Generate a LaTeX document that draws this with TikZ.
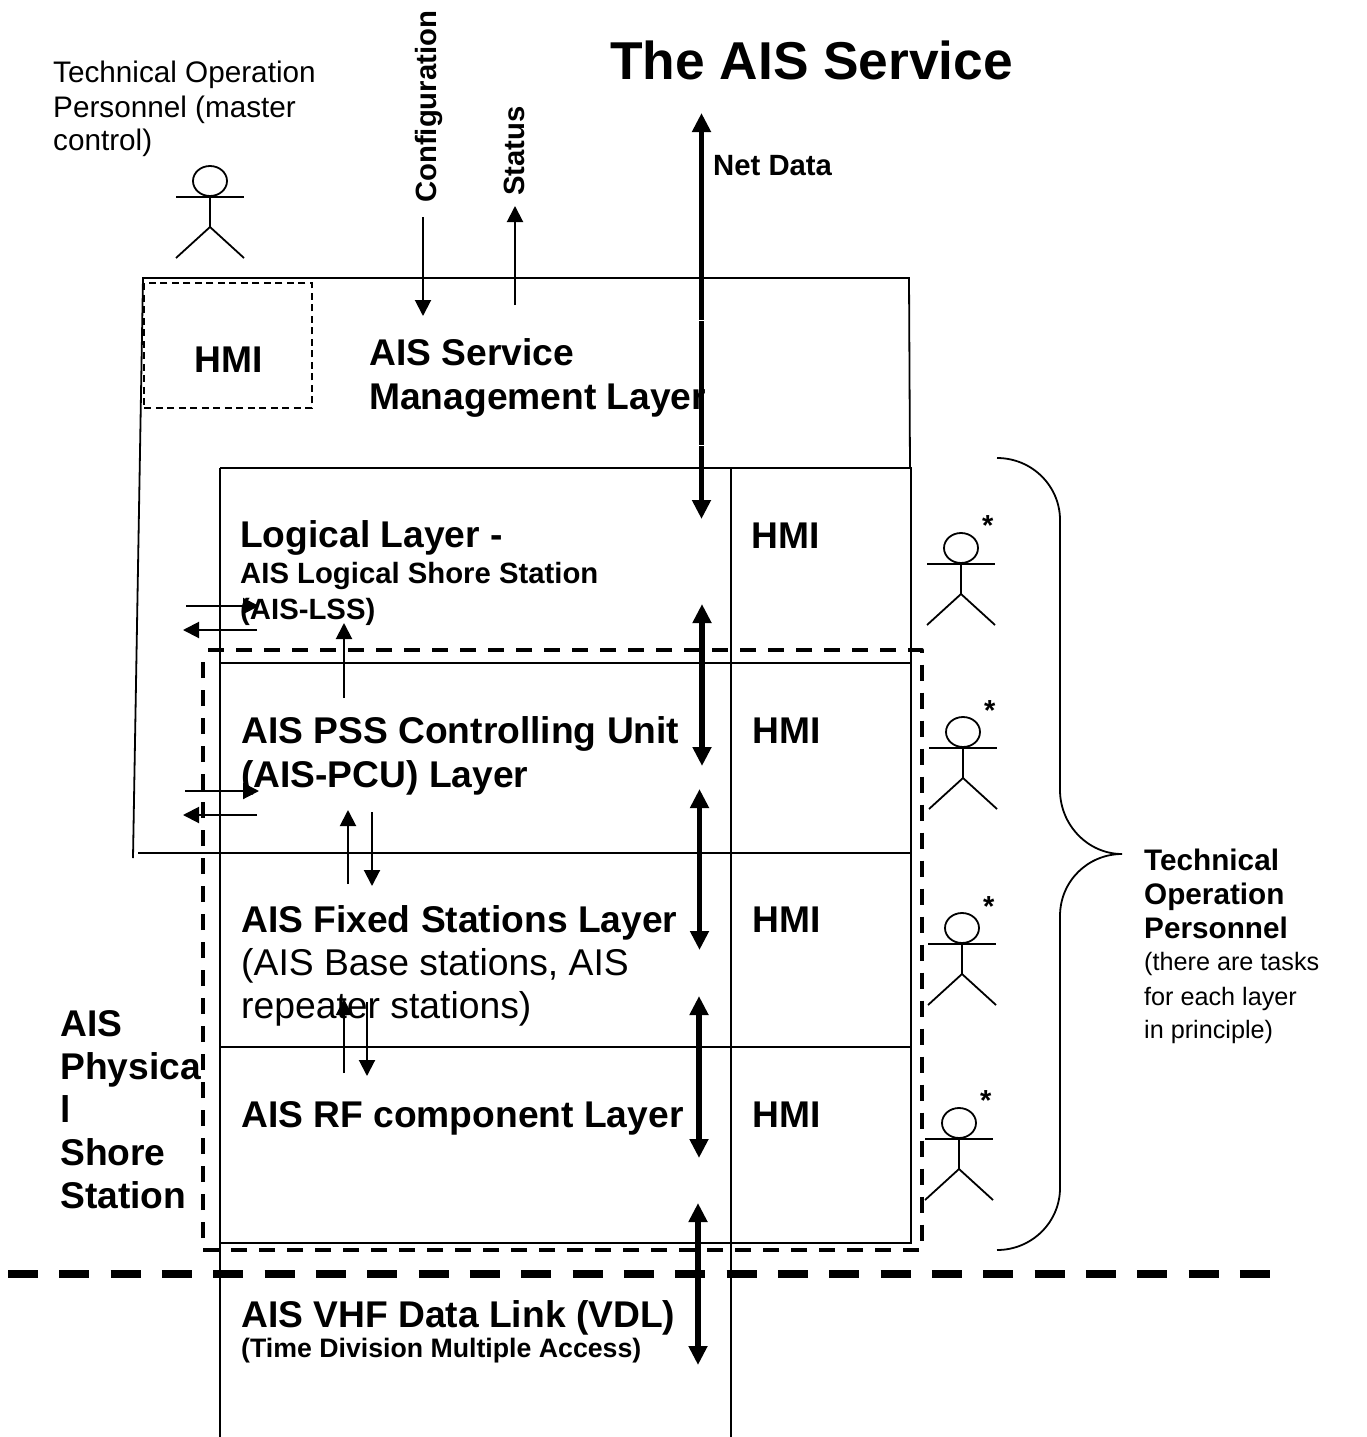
\documentclass[tikz,border=0pt]{standalone}
\usepackage{fontspec}
\setmainfont{Liberation Sans}
\usetikzlibrary{arrows.meta,calc}
\newcommand{\fs}[1]{\fontsize{#1}{#1}\selectfont}
\tikzset{x=1pt,y=-1pt,
  lbl/.style={inner sep=0pt,anchor=base west,align=left},
  title/.style={lbl,font=\fs{53.3}\bfseries},
  big/.style={lbl,font=\fs{37.2}\bfseries},
  med/.style={lbl,font=\fs{29.3}\bfseries},
  tech/.style={lbl,font=\fs{29.7}\bfseries},
  plain/.style={lbl,font=\fs{29.7}},
  note/.style={lbl,font=\fs{25.2}},
  plainbig/.style={lbl,font=\fs{37.3}},
  small/.style={lbl,font=\fs{26.7}\bfseries},
  star/.style={lbl,font=\fs{29}\bfseries},
  thin line/.style={draw=black,line width=1.8pt},
  thinarrow/.style={draw=black,line width=2pt,-{Triangle[length=16pt,width=16pt]}},
  thickarrow/.style={draw=black,line width=5.5pt,{Triangle[length=19pt,width=18pt]}-{Triangle[length=19pt,width=18pt]}},
  thickstart/.style={draw=black,line width=5.5pt,{Triangle[length=19pt,width=18pt]}-},
  thickmid/.style={draw=black,line width=5.5pt},
  thickend/.style={draw=black,line width=5.5pt,-{Triangle[length=19pt,width=18pt]}},
  dashbox/.style={draw=black,line width=4pt,dash pattern=on 16pt off 12pt,line join=round},
  hmidash/.style={draw=black,line width=1.7pt,dash pattern=on 7pt off 4.5pt},
  bigdash/.style={draw=black,line width=8pt,dash pattern=on 30pt off 21.33pt},
}
\begin{document}
\begin{tikzpicture}
\useasboundingbox (0,0) rectangle (1367,1437);
% titles
\node[title] (title) at (610,79) {The AIS Service};
\node[plain] (top) at (53,82) {Technical Operation};
\node[plain] (top2) at (53,117) {Personnel (master};
\node[plain] (top3) at (53,150) {control)};
\node[med,rotate=90] (conf) at (436,203) {Configuration};
\node[med,rotate=90] (stat) at (524,196) {Status};
\node[med] (net) at (713,175) {Net Data};
% outer management box
\coordinate (m1) at (133,858); \coordinate (m2) at (143,278);
\coordinate (m3) at (909,278); \coordinate (m4) at (910,468);
\coordinate (m5) at (220,853); \coordinate (m6) at (138,853);
\draw[thin line] (m5) -- (m6);
\draw[thin line] (m1) -- (m2) -- (m3) -- (m4);
% layer table
\coordinate (a1) at (220,468); \coordinate (a2) at (911,468);
\coordinate (b1) at (220,663); \coordinate (b2) at (911,663);
\coordinate (c1) at (220,853); \coordinate (c2) at (911,853);
\coordinate (d1) at (220,1047); \coordinate (d2) at (911,1047);
\coordinate (e1) at (220,1243); \coordinate (e2) at (911,1243);
\coordinate (f1) at (220,1437); \coordinate (f2) at (731,1437);
\coordinate (g1) at (731,468);
\draw[thin line] (a1) -- (a2) -- (e2) -- (e1);
\draw[thin line] (a1) -- (f1);
\draw[thin line] (b1) -- (b2);
\draw[thin line] (c1) -- (c2);
\draw[thin line] (d1) -- (d2);
\draw[thin line] (g1) -- (f2);
% HMI dashed
\node[hmidash,minimum width=167.5pt,minimum height=125pt,inner sep=0pt] (hmibox) at (228,345.8) {};
\node[big] (hmi0) at (194,372) {HMI};
\node[big] (hmi1) at (751,548) {HMI};
\node[big] (hmi2) at (752,743) {HMI};
\node[big] (hmi3) at (752,932) {HMI};
\node[big] (hmi4) at (752,1127) {HMI};
% layer labels
\node[big] (l1) at (369,365) {AIS Service};
\node[big] (l2) at (369,409) {Management Layer};
\node[big] (l3) at (240,547) {Logical Layer -};
\node[med] (l4) at (240,583) {AIS Logical Shore Station};
\node[med] (l5) at (240,619) {(AIS-LSS)};
\node[big] (l6) at (241,743) {AIS PSS Controlling Unit};
\node[big] (l7) at (241,787) {(AIS-PCU) Layer};
\node[big] (l8) at (241,932) {AIS Fixed Stations Layer};
\node[plainbig] (l9) at (241,975) {(AIS Base stations, AIS};
\node[plainbig] (l10) at (241,1018) {repeater stations)};
\node[big] (l11) at (241,1127) {AIS RF component Layer};
\node[big] (l12) at (241,1327) {AIS VHF Data Link (VDL)};
\node[small] (l13) at (241,1357) {(Time Division Multiple Access)};
\node[big] (p1) at (60,1036) {AIS};
\node[big] (p2) at (60,1079) {Physica};
\node[big] (p3) at (60,1122) {l};
\node[big] (p4) at (60,1165) {Shore};
\node[big] (p5) at (60,1208) {Station};
\node[tech] (t1) at (1144,870) {Technical};
\node[tech] (t2) at (1144,904) {Operation};
\node[tech] (t3) at (1144,938) {Personnel};
\node[note] (t4) at (1144,970) {(there are tasks};
\node[note] (t5) at (1144,1005) {for each layer};
\node[note] (t6) at (1144,1038) {in principle)};
% dashed boxes
\coordinate (ds1) at (208,650); \coordinate (ds2) at (921.5,650);
\coordinate (ds3) at (921.5,1250); \coordinate (ds4) at (203,1250); \coordinate (ds5) at (203,655);
\draw[dashbox] (ds1) -- (ds2) -- (ds3) -- (ds4) -- (ds5);
\coordinate (h1) at (8,1273.5); \coordinate (h2) at (1270,1273.5);
\draw[bigdash] (h1) -- (h2);
% thin arrows
\coordinate (ca) at (423,217); \coordinate (cb) at (423,316);
\draw[thinarrow] (ca) -- (cb);
\coordinate (sa) at (515,305); \coordinate (sb) at (515,206);
\draw[thinarrow] (sa) -- (sb);
\coordinate (x1a) at (186,606); \coordinate (x1b) at (259,606);
\draw[thinarrow] (x1a) -- (x1b);
\coordinate (x2a) at (257,630); \coordinate (x2b) at (183,630);
\draw[thinarrow] (x2a) -- (x2b);
\coordinate (x3a) at (185,791); \coordinate (x3b) at (259,791);
\draw[thinarrow] (x3a) -- (x3b);
\coordinate (x4a) at (257,815); \coordinate (x4b) at (183,815);
\draw[thinarrow] (x4a) -- (x4b);
\coordinate (u1a) at (344,698); \coordinate (u1b) at (344,623);
\draw[thinarrow] (u1a) -- (u1b);
\coordinate (u2a) at (348,884); \coordinate (u2b) at (348,810);
\draw[thinarrow] (u2a) -- (u2b);
\coordinate (u3a) at (372,812); \coordinate (u3b) at (372,886);
\draw[thinarrow] (u3a) -- (u3b);
\coordinate (u4a) at (344,1073); \coordinate (u4b) at (344,999);
\draw[thinarrow] (u4a) -- (u4b);
\coordinate (u5a) at (367,1002); \coordinate (u5b) at (367,1076);
\draw[thinarrow] (u5a) -- (u5b);
% thick arrows
\coordinate (n1a) at (701.5,113); \coordinate (n1g) at (701.5,319.5);
\coordinate (n1h) at (701.5,321); \coordinate (n1i) at (701.5,444.5);
\coordinate (n1j) at (701.5,446); \coordinate (n1b) at (701.5,519);
\draw[thickstart] (n1a) -- (n1g);
\draw[thickmid] (n1h) -- (n1i);
\draw[thickend] (n1j) -- (n1b);
\coordinate (n2a) at (702,604); \coordinate (n2b) at (702,766);
\draw[thickarrow] (n2a) -- (n2b);
\coordinate (n3a) at (699.5,789); \coordinate (n3b) at (699.5,950);
\draw[thickarrow] (n3a) -- (n3b);
\coordinate (n4a) at (699,996); \coordinate (n4b) at (699,1158);
\draw[thickarrow] (n4a) -- (n4b);
\coordinate (n5a) at (698,1203); \coordinate (n5b) at (698,1365);
\draw[thickarrow] (n5a) -- (n5b);
% persons
\foreach \cx/\cy in {210/181,961/548,963/732,962/928,959/1123}{
  \draw[thin line] (\cx,\cy) ellipse[x radius=17,y radius=15];
  \draw[thin line] (\cx-34,\cy+16) -- (\cx+34,\cy+16);
  \draw[thin line] (\cx,\cy+16) -- (\cx,\cy+46);
  \draw[thin line] (\cx-34,\cy+77) -- (\cx,\cy+46) -- (\cx+34,\cy+77);
}
\node[star] (s1) at (982,535) {*};
\node[star] (s2) at (984,720) {*};
\node[star] (s3) at (983,916) {*};
\node[star] (s4) at (980,1110) {*};
% brace
\coordinate (b0) at (997,458); \coordinate (bm) at (1122,854); \coordinate (be) at (997,1250);
\draw[thin line] (b0) .. controls (1032,458) and (1060,486) .. (1060,520)
  -- (1060,790) .. controls (1060,825) and (1088,854) .. (bm)
  .. controls (1088,854) and (1060,881) .. (1060,916)
  -- (1060,1188) .. controls (1060,1222) and (1032,1250) .. (be);
\end{tikzpicture}
\end{document}
